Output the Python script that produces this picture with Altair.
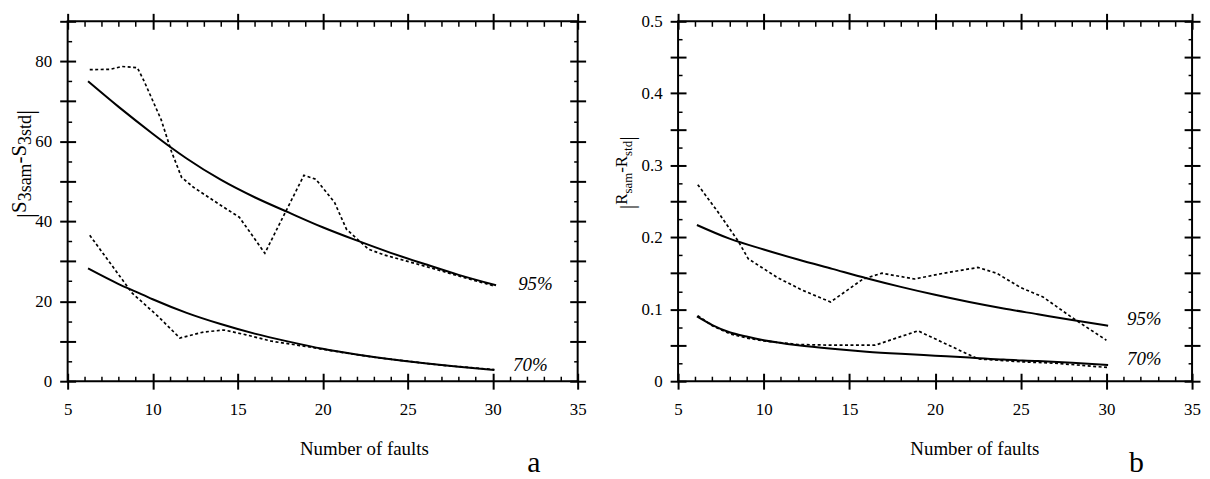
import altair as alt
import pandas as pd

SERIF = "Liberation Serif"

# ---------------- panel a : |S3sam - S3std| ----------------
a_fit95_x = [6.2, 8, 10, 11, 12, 14, 16, 18, 20, 22, 24, 26, 28, 30.2]
a_fit95_y = [75, 68.6, 61.9, 58.7, 55.7, 50.4, 46, 42.2, 38.5, 35.2, 32.1, 29.3, 26.6, 24]
a_sam95_x = [6.3, 7.5, 8.2, 9.1, 9.5, 10.5, 11.1, 11.7, 12.4, 14.0, 15.1, 16.6, 17.8, 18.9, 19.6, 20.7, 21.4, 22.7, 23.6, 25.9, 28.1, 30.1]
a_sam95_y = [77.9, 78.0, 78.7, 78.4, 75.0, 65.4, 57.5, 51.0, 48.5, 44.0, 41.0, 32.0, 42.2, 51.5, 50.5, 44.7, 38.0, 33.0, 31.6, 28.9, 26.2, 23.8]
a_fit70_x = [6.2, 8, 9, 10, 12, 14, 16, 18, 20, 22, 24, 26, 28, 30.1]
a_fit70_y = [28.2, 24.3, 22.4, 20.5, 17.1, 14.3, 11.9, 9.9, 8.1, 6.7, 5.5, 4.5, 3.6, 2.8]
a_sam70_x = [6.3, 8.8, 10.3, 11.6, 13.0, 14.2, 15.5, 17, 19, 21, 23, 25, 27, 29, 30.1]
a_sam70_y = [36.5, 22.0, 16.3, 10.8, 12.3, 12.8, 11.6, 10.0, 8.7, 7.3, 6.0, 5.0, 4.0, 3.3, 2.9]
a_lab_text = ["95%", "70%"]
a_lab_x = [31.5, 31.2]
a_lab_y = [24.3, 4.0]

# ---------------- panel b : |Rsam - Rstd| ----------------
b_fit95_x = [6.1, 8, 10, 12, 14, 16, 18, 20, 22, 24, 26, 28, 30.1]
b_fit95_y = [0.217, 0.198, 0.183, 0.169, 0.156, 0.143, 0.131, 0.120, 0.110, 0.101, 0.093, 0.085, 0.077]
b_sam95_x = [6.15, 7.3, 8.5, 9.1, 10.8, 12.2, 13.9, 15.8, 16.9, 18.8, 20.5, 22.5, 23.6, 25, 26.3, 28.2, 30]
b_sam95_y = [0.273, 0.236, 0.195, 0.170, 0.144, 0.127, 0.110, 0.142, 0.150, 0.142, 0.150, 0.158, 0.150, 0.130, 0.117, 0.085, 0.057]
b_fit70_x = [6.1, 7, 8, 9, 10, 12, 14, 16, 18, 20, 22, 24, 26, 28, 30.1]
b_fit70_y = [0.090, 0.078, 0.068, 0.062, 0.057, 0.050, 0.045, 0.041, 0.038, 0.0355, 0.033, 0.030, 0.028, 0.0255, 0.0225]
b_sam70_x = [6.15, 7, 8, 9, 10, 12, 14, 16.5, 19, 22.5, 25, 27, 30.1]
b_sam70_y = [0.091, 0.077, 0.066, 0.060, 0.056, 0.051, 0.050, 0.050, 0.070, 0.031, 0.027, 0.025, 0.019]
b_lab_text = ["95%", "70%"]
b_lab_x = [31.2, 31.2]
b_lab_y = [0.086, 0.031]

# ---------------- ticks ----------------
x_major = [5, 10, 15, 20, 25, 30, 35]
x_minor = [v for v in range(6, 35) if v % 5 != 0]
a_y_major = [0, 10, 20, 30, 40, 50, 60, 70, 80, 90]
a_y_minor = [5, 15, 25, 35, 45, 55, 65, 75, 85]
b_y_major = [0, 0.05, 0.1, 0.15, 0.2, 0.25, 0.3, 0.35, 0.4, 0.45, 0.5]
b_y_minor = [0.025, 0.075, 0.125, 0.175, 0.225, 0.275, 0.325, 0.375, 0.425, 0.475]


def frame(pairs):
    rows = []
    for name, xs, ys in pairs:
        for x, y in zip(xs, ys):
            rows.append({"series": name, "x": x, "y": y})
    return pd.DataFrame(rows)


def major_axis(orient, values, **kw):
    return alt.Axis(orient=orient, values=values, offset=-8, tickSize=16, tickWidth=2,
                    tickColor="black", domain=False, grid=False,
                    labelFont=SERIF, labelFontSize=17, labelColor="black", **kw)


def minor_axis(orient, values, size):
    return alt.Axis(orient=orient, values=values, offset=-size, tickSize=size, tickWidth=1.5,
                    tickColor="black", domain=False, grid=False, labels=False, title=None)


def panel(solid, dashed, labels, ydom, y_major, y_minor, y_label_expr, title_pieces,
          title_anchor, letter, letter_pos, W, H):
    xs = alt.Scale(domain=[5, 35], nice=False, zero=False)
    ys = alt.Scale(domain=ydom, nice=False, zero=False)

    solid_layer = alt.Chart(solid).mark_line(color="black", strokeWidth=2, interpolate="monotone").encode(
        x=alt.X("x:Q", scale=xs, axis=major_axis(
            "bottom", x_major, labels=True, labelPadding=12, labelFlush=False, labelOverlap=False,
            title="Number of faults", titleFont=SERIF, titleFontSize=19, titleFontWeight="normal",
            titleColor="black", titleX=298, titleY=82, titleAlign="center",
            titleBaseline="alphabetic")),
        y=alt.Y("y:Q", scale=ys, axis=major_axis(
            "left", y_major, labels=True, labelPadding=8, labelFlush=False, labelOverlap=False,
            labelExpr=y_label_expr, title=None)),
        detail="series:N",
    )
    dashed_layer = alt.Chart(dashed).mark_line(color="black", strokeWidth=1.7, strokeDash=[3, 2.5]).encode(
        x=alt.X("x:Q", scale=xs, axis=minor_axis("bottom", x_minor, 5)),
        y=alt.Y("y:Q", scale=ys, axis=minor_axis("left", y_minor, 4)),
        detail="series:N",
    )
    top_major = alt.Chart(solid).mark_point(opacity=0).encode(
        x=alt.X("x:Q", scale=xs, axis=major_axis("top", x_major, labels=False, title=None)),
        y=alt.Y("y:Q", scale=ys, axis=major_axis("right", y_major, labels=False, title=None)),
    )
    top_minor = alt.Chart(solid).mark_point(opacity=0).encode(
        x=alt.X("x:Q", scale=xs, axis=minor_axis("top", x_minor, 5)),
        y=alt.Y("y:Q", scale=ys, axis=minor_axis("right", y_minor, 4)),
    )
    lab_layer = alt.Chart(labels).mark_text(font=SERIF, fontSize=19, fontStyle="italic", align="left",
                                            baseline="middle", color="black").encode(
        x=alt.X("x:Q", scale=xs, axis=None),
        y=alt.Y("y:Q", scale=ys, axis=None),
        text="text:N",
    )
    layers = [solid_layer, dashed_layer, top_major, top_minor, lab_layer]
    tx, ty = title_anchor
    for txt, size, dx, dy in title_pieces:
        layers.append(
            alt.Chart(pd.DataFrame({"t": [txt]})).mark_text(
                font=SERIF, fontSize=size, angle=270, align="left", baseline="alphabetic",
                dx=dx, dy=dy, color="black").encode(text="t:N", x=alt.value(tx), y=alt.value(ty))
        )
    layers.append(
        alt.Chart(pd.DataFrame({"t": [letter]})).mark_text(
            font=SERIF, fontSize=30, align="center", baseline="alphabetic", color="black").encode(
            text="t:N", x=alt.value(letter_pos[0]), y=alt.value(letter_pos[1]))
    )
    return alt.layer(*layers).resolve_axis(x="independent", y="independent").properties(width=W, height=H)


a_solid = frame([("fit95", a_fit95_x, a_fit95_y), ("fit70", a_fit70_x, a_fit70_y)])
a_dashed = frame([("sam95", a_sam95_x, a_sam95_y), ("sam70", a_sam70_x, a_sam70_y)])
a_labels = pd.DataFrame({"text": a_lab_text, "x": a_lab_x, "y": a_lab_y})
b_solid = frame([("fit95", b_fit95_x, b_fit95_y), ("fit70", b_fit70_x, b_fit70_y)])
b_dashed = frame([("sam95", b_sam95_x, b_sam95_y), ("sam70", b_sam70_x, b_sam70_y)])
b_labels = pd.DataFrame({"text": b_lab_text, "x": b_lab_x, "y": b_lab_y})

a_title = [("|", 26, 0, 8), ("S", 21, 5.2, 0), ("3sam", 18, 17, 5), ("-S", 21, 55, 0),
           ("3std", 18, 73.7, 5), ("|", 26, 103.7, 8)]
b_title = [("|", 22, 0, 7), ("R", 17, 4.4, 0), ("sam", 13, 15.7, 5), ("-R", 17, 36.6, 0),
           ("std", 13, 53.6, 5), ("|", 22, 68.8, 7)]

pa = panel(a_solid, a_dashed, a_labels, [0, 90], a_y_major, a_y_minor,
           "datum.value % 20 == 0 ? datum.label : ''", a_title, (-42, 198), "a", (469, 453), 513, 362)
pb = panel(b_solid, b_dashed, b_labels, [0, 0.5], b_y_major, b_y_minor,
           "round(datum.value * 100) % 10 == 0 ? format(datum.value, '.1~f') : ''", b_title,
           (-51, 189), "b", (461, 453), 517, 362)

chart = alt.hconcat(pa, pb, spacing=101, bounds="flush").configure_view(
    stroke="black", strokeWidth=2
).configure_axis(
    labelFont=SERIF, labelFontSize=17, labelColor="black", titleFont=SERIF, titleFontSize=19,
    titleFontWeight="normal", titleColor="black", tickColor="black"
).properties(
    padding={"left": 0, "top": 2, "right": 0, "bottom": 0}, background="white"
)

chart.save("out.html", embed_options={"renderer": "svg", "actions": False})
